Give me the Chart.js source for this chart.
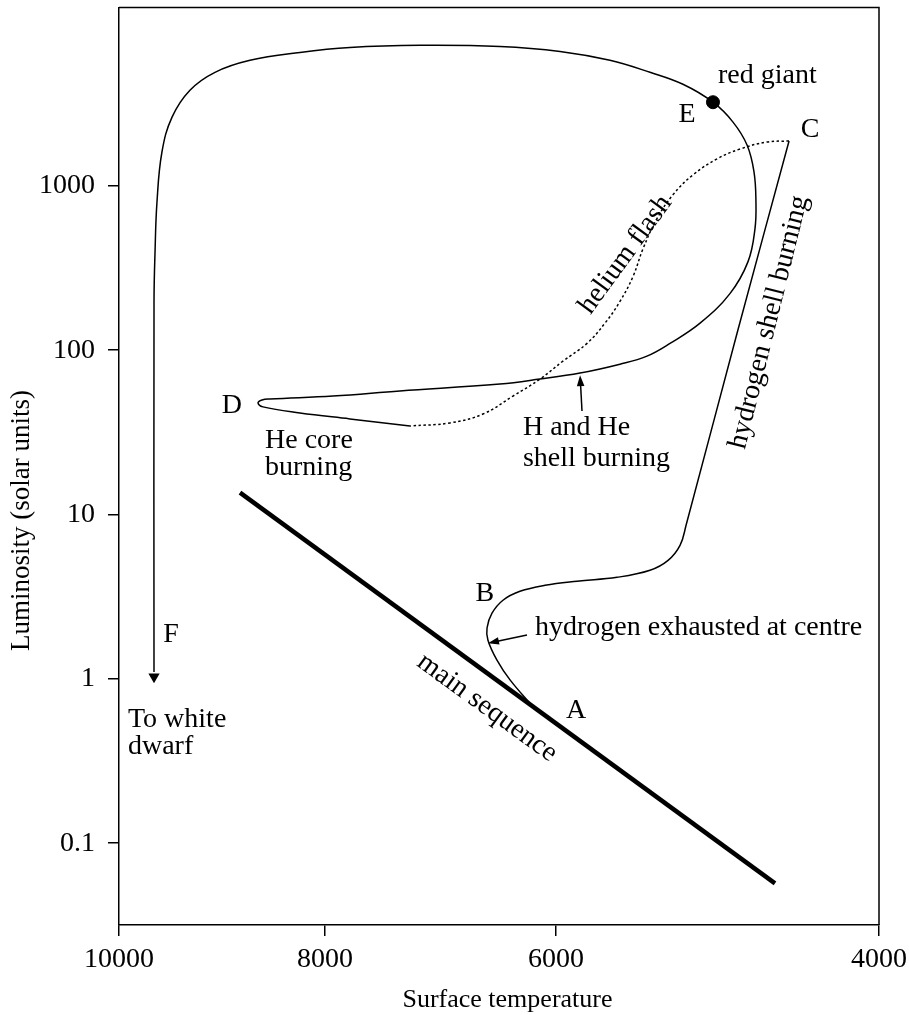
<!DOCTYPE html>
<html>
<head>
<meta charset="utf-8">
<script src="https://cdn.jsdelivr.net/npm/chart.js@4.4.1/dist/chart.umd.min.js"></script>
<style>
  html, body { margin: 0; padding: 0; background: #ffffff; }
  #wrap { width: 909px; height: 1015px; position: relative; }
</style>
</head>
<body>
<div id="wrap"><canvas id="c"></canvas></div>
<script>
// ---------------- axis definitions ----------------
const xTickValues = [10000, 8000, 6000, 4000];
// relative spacing of the temperature ticks as drawn on the source figure's axis
const xTickFractions = [0, 0.271, 0.575, 1];
const yTickValues = [0.1, 1, 10, 100, 1000];
const yMin = 0.0318, yMax = 12170;

// ---------------- data (surface temperature K, luminosity in solar units) ----------------
const mainSeqT = [8825, 4644];
const mainSeqL = [13.6, 0.057];

// A -> B -> C : hydrogen exhausted, hydrogen shell burning
const trackAC_T = [6199, 6398, 6511, 6589, 6597, 6554, 6459, 6312, 6095, 5870, 5622, 5418, 5306, 5232, 5195, 4879, 4557];
const trackAC_L = [0.676, 0.986, 1.30, 1.72, 2.04, 2.51, 3.01, 3.41, 3.71, 3.93, 4.15, 4.58, 5.26, 6.49, 8.57, 126.8, 1874];

// C -> helium flash (dotted)
const flashT = [4557, 4693, 4861, 5003, 5152, 5276, 5375, 5461, 5523, 5604, 5697, 5808, 5957, 6139, 6372, 6632, 6918, 7264];
const flashL = [1874, 1849, 1675, 1459, 1166, 882, 631, 415, 281, 198, 146, 110, 85.8, 66.7, 52.6, 40.9, 36.1, 34.6];

// He core burning -> D -> H and He shell burning -> E (red giant) -> F (to white dwarf)
const trackDF_T = [7264, 7784, 8243, 8602, 8650, 8611, 8534, 7931, 7351, 6485, 6139, 5851, 5604, 5437, 5294, 5108, 4923, 4811, 4768, 4762, 4774, 4817, 4904, 5028, 5214, 5418, 5666, 5975, 6485, 7177, 7784, 8243, 8728, 9068, 9311, 9485, 9583, 9631, 9650, 9660, 9660];
const trackDF_L = [34.6, 38.2, 41.5, 45.2, 47.8, 49.8, 50.5, 52.6, 56.5, 62.2, 66.7, 72.6, 82.2, 92, 110, 146, 221, 346, 548, 800, 1216, 1771, 2443, 3228, 4150, 4908, 5807, 6577, 7047, 7161, 6950, 6486, 5807, 4908, 3819, 2619, 1607, 800, 398, 198, 1.10];

const redGiantT = [5028];
const redGiantL = [3228];
const arrowF_T = [9660];
const arrowF_L = [1.03];

// text annotations: [text, T, L, align, rotation in degrees]
const annotations = [
  ["red giant", 4997, 4710, "left", 0],
  ["E", 5189, 2730, "center", 0],
  ["C", 4427, 2183, "center", 0],
  ["helium flash", 5570, 382, "center", -54],
  ["hydrogen shell burning", 4681, 148, "center", -76],
  ["D", 8903, 45.8, "center", 0],
  ["He core", 8582, 28.1, "left", 0],
  ["burning", 8582, 19.3, "left", 0],
  ["H and He", 6286, 33.7, "left", 0],
  ["shell burning", 6286, 21.8, "left", 0],
  ["B", 6615, 3.32, "center", 0],
  ["hydrogen exhausted at centre", 6182, 2.05, "left", 0],
  ["main sequence", 6597, 0.667, "center", 36],
  ["A", 5876, 0.640, "center", 0],
  ["F", 9495, 1.87, "center", 0],
  ["To white", 9913, 0.565, "left", 0],
  ["dwarf", 9913, 0.387, "left", 0]
];
// pointer arrows: [fromT, fromL, toT, toL]
const pointerArrows = [
  [5839, 42.7, 5851, 70.5],
  [6251, 1.85, 6589, 1.65]
];

const xTitle = "Surface temperature";
const xTitleAt = 6420;
const yTitle = "Luminosity (solar units)";
const yTitleAt = 9.2;

// ---------------- custom temperature scale following the drawn tick spacing ----------------
function tempToFraction(v) {
  const t = xTickValues, f = xTickFractions;
  let i = 0;
  if (v <= t[t.length - 1]) i = t.length - 2;
  else {
    for (i = 0; i < t.length - 2; i++) if (v >= t[i + 1]) break;
  }
  return f[i] + (v - t[i]) / (t[i + 1] - t[i]) * (f[i + 1] - f[i]);
}
function fractionToTemp(d) {
  const t = xTickValues, f = xTickFractions;
  let i = 0;
  for (i = 0; i < f.length - 2; i++) if (d <= f[i + 1]) break;
  return t[i] + (d - f[i]) / (f[i + 1] - f[i]) * (t[i + 1] - t[i]);
}
const BaseLinear = Chart.LinearScale || Chart.registry.getScale('linear');
class TemperatureScale extends BaseLinear {
  getPixelForValue(value) { return this.getPixelForDecimal(tempToFraction(value)); }
  getValueForPixel(pixel) { return fractionToTemp(this.getDecimalForPixel(pixel)); }
}
TemperatureScale.id = 'temperature';
TemperatureScale.defaults = BaseLinear.defaults;
Chart.register(TemperatureScale);

const zip = (T, L) => T.map((t, i) => ({ x: t, y: L[i] }));

const SERIF = '"Liberation Serif", "Times New Roman", serif';

function drawArrowHead(ctx, x0, y0, x1, y1, len, half) {
  const a = Math.atan2(y1 - y0, x1 - x0);
  ctx.beginPath();
  ctx.moveTo(x1, y1);
  ctx.lineTo(x1 - len * Math.cos(a) + half * Math.sin(a), y1 - len * Math.sin(a) - half * Math.cos(a));
  ctx.lineTo(x1 - len * Math.cos(a) - half * Math.sin(a), y1 - len * Math.sin(a) + half * Math.cos(a));
  ctx.closePath();
  ctx.fill();
}

const annotationPlugin = {
  id: 'annotationPlugin',
  afterDraw(chart) {
    const { ctx, chartArea, scales } = chart;
    const xs = scales.x, ys = scales.y;
    ctx.save();
    // frame (top and right sides)
    ctx.strokeStyle = '#000';
    ctx.lineWidth = 1.5;
    ctx.beginPath();
    ctx.moveTo(chartArea.left, chartArea.top);
    ctx.lineTo(chartArea.right, chartArea.top);
    ctx.lineTo(chartArea.right, chartArea.bottom);
    ctx.stroke();

    ctx.fillStyle = '#000';
    ctx.font = '28px ' + SERIF;
    ctx.textBaseline = 'middle';
    annotations.forEach(([text, t, l, align, rot]) => {
      const px = xs.getPixelForValue(t), py = ys.getPixelForValue(l);
      ctx.save();
      ctx.translate(px, py);
      ctx.rotate(rot * Math.PI / 180);
      ctx.textAlign = align;
      ctx.fillText(text, 0, 0);
      ctx.restore();
    });

    ctx.lineWidth = 1.5;
    pointerArrows.forEach(([t0, l0, t1, l1]) => {
      const x0 = xs.getPixelForValue(t0), y0 = ys.getPixelForValue(l0);
      const x1 = xs.getPixelForValue(t1), y1 = ys.getPixelForValue(l1);
      const a = Math.atan2(y1 - y0, x1 - x0);
      ctx.beginPath();
      ctx.moveTo(x0, y0);
      ctx.lineTo(x1 - 6 * Math.cos(a), y1 - 6 * Math.sin(a));
      ctx.stroke();
      drawArrowHead(ctx, x0, y0, x1, y1, 11, 3.8);
    });

    // axis titles
    ctx.font = '26px ' + SERIF;
    ctx.textAlign = 'center';
    ctx.textBaseline = 'middle';
    ctx.fillText(xTitle, xs.getPixelForValue(xTitleAt), xs.bottom - 15);

    ctx.save();
    ctx.font = '27px ' + SERIF;
    ctx.translate(22, ys.getPixelForValue(yTitleAt));
    ctx.rotate(-Math.PI / 2);
    ctx.fillText(yTitle, 0, 0);
    ctx.restore();

    ctx.restore();
  }
};

const lineBase = { borderColor: '#000', backgroundColor: '#000', pointRadius: 0, fill: false, borderCapStyle: 'butt', borderJoinStyle: 'round' };

new Chart(document.getElementById('c'), {
  type: 'line',
  data: {
    datasets: [
      { ...lineBase, label: 'main sequence', data: zip(mainSeqT, mainSeqL), borderWidth: 4.5, tension: 0 },
      { ...lineBase, label: 'A-B-C', data: zip(trackAC_T, trackAC_L), borderWidth: 1.5, tension: 0.4 },
      { ...lineBase, label: 'helium flash', data: zip(flashT, flashL), borderWidth: 1.5, tension: 0.4, borderDash: [2.5, 2.5] },
      { ...lineBase, label: 'D-E-F', data: zip(trackDF_T, trackDF_L), borderWidth: 1.5, tension: 0.4 },
      { ...lineBase, label: 'red giant', data: zip(redGiantT, redGiantL), showLine: false, pointRadius: 6.5, pointBackgroundColor: '#000', pointBorderColor: '#000' },
      { ...lineBase, label: 'to white dwarf', data: zip(arrowF_T, arrowF_L), showLine: false, pointStyle: 'triangle', rotation: 180, pointRadius: 6.5, pointBackgroundColor: '#000', pointBorderColor: '#000', pointBorderWidth: 0 }
    ]
  },
  options: {
    responsive: true,
    maintainAspectRatio: false,
    animation: false,
    events: [],
    layout: { padding: { top: 5, right: 30, left: 0, bottom: 0 } },
    plugins: { legend: { display: false }, tooltip: { enabled: false } },
    scales: {
      x: {
        type: 'temperature',
        position: 'bottom',
        min: 4000,
        max: 10000,
        afterBuildTicks: s => { s.ticks = xTickValues.map(v => ({ value: v })); },
        afterFit: s => { s.height = 90; s.paddingLeft = 0; s.paddingRight = 0; },
        ticks: { color: '#000', font: { family: SERIF, size: 28 }, padding: 7, maxRotation: 0, autoSkip: false, callback: v => String(v) },
        grid: { drawOnChartArea: false, drawTicks: true, tickLength: 11, color: '#000', lineWidth: 1.5 },
        border: { display: true, color: '#000', width: 1.5 },
        title: { display: false, text: xTitle }
      },
      y: {
        type: 'logarithmic',
        position: 'left',
        min: yMin,
        max: yMax,
        afterBuildTicks: s => { s.ticks = yTickValues.map(v => ({ value: v })); },
        afterFit: s => { s.width = 119; s.paddingTop = 0; s.paddingBottom = 0; },
        ticks: { color: '#000', font: { family: SERIF, size: 28 }, padding: 13, autoSkip: false, callback: v => String(v) },
        grid: { drawOnChartArea: false, drawTicks: true, tickLength: 11, color: '#000', lineWidth: 1.5 },
        border: { display: true, color: '#000', width: 1.5 },
        title: { display: false, text: yTitle }
      }
    }
  },
  plugins: [annotationPlugin]
});
</script>
</body>
</html>
